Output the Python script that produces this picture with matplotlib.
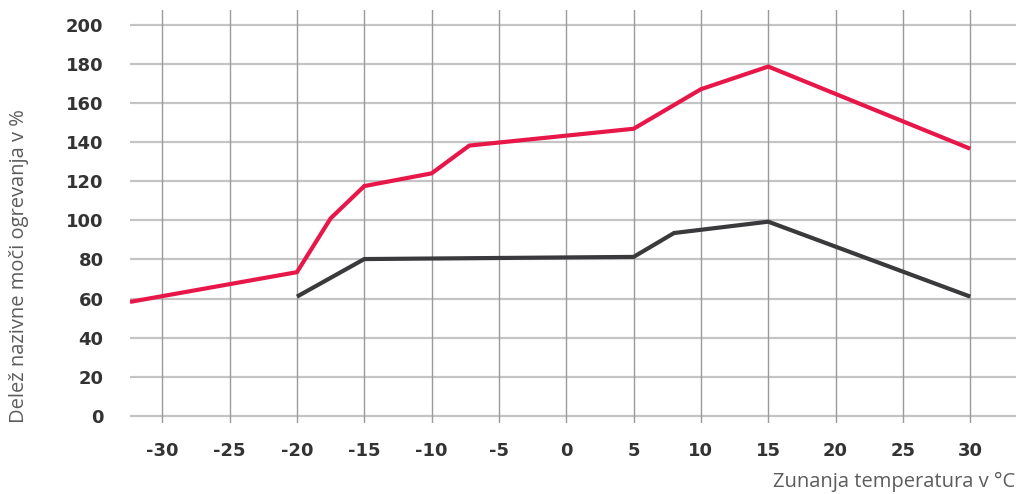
import matplotlib
import matplotlib.pyplot as plt

matplotlib.use("Agg")

# outdoor temperature (deg C) vs share of nominal heating power (%)
red_temp = [-32.4, -20, -17.5, -15, -10, -7.2, 5, 10, 15, 30]
red_share = [58.3, 73.5, 101, 117.5, 124, 138.2, 146.8, 167, 178.6, 136.6]

dark_temp = [-20, -15, 5, 8, 15, 30]
dark_share = [61, 80.2, 81.3, 93.5, 99.3, 61]

x_ticks = [-30, -25, -20, -15, -10, -5, 0, 5, 10, 15, 20, 25, 30]
y_ticks = [0, 20, 40, 60, 80, 100, 120, 140, 160, 180, 200]

fig = plt.figure(figsize=(10.16, 4.94), dpi=100)
ax = fig.add_axes([130 / 1016, 71 / 494, 886 / 1016, 413 / 494])

for t in y_ticks:
    ax.axhline(t, color="#c4c4c4", lw=1.6, zorder=1)
for t in x_ticks:
    ax.axvline(t, color="#9a9a9a", lw=1.0, zorder=1)

ax.plot(dark_temp, dark_share, color="#3a3a3c", lw=3.0, zorder=3,
        solid_capstyle="butt", solid_joinstyle="miter")
ax.plot(red_temp, red_share, color="#e8174a", lw=3.0, zorder=4,
        solid_capstyle="butt", solid_joinstyle="miter")

ax.set_xlim(-32.4, 33.4)
ax.set_ylim(-3.6, 207.5)
ax.set_xticks(x_ticks)
ax.set_yticks(y_ticks)
ax.set_xticklabels([str(t) for t in x_ticks])
ax.tick_params(length=0)
ax.tick_params(axis="y", pad=19)
ax.tick_params(axis="x", pad=14)
for lab in ax.get_xticklabels() + ax.get_yticklabels():
    lab.set_fontfamily("DejaVu Sans")
    lab.set_fontweight("bold")
    lab.set_fontsize(13)
    lab.set_color("#333333")

for k, v in ax.spines.items():
    v.set_visible(False)

fig.text(19 / 1016, 71 / 494, "Delež nazivne moči ogrevanja v %", rotation=90,
         ha="center", va="bottom", fontsize=14.5, fontfamily="Open Sans",
         color="#5c5c5c")
fig.text(0.999, 0.004, "Zunanja temperatura v °C", ha="right", va="bottom",
         fontsize=14.5, fontfamily="Open Sans", color="#5c5c5c")

fig.savefig("out.png", dpi=100)
plt.close()
